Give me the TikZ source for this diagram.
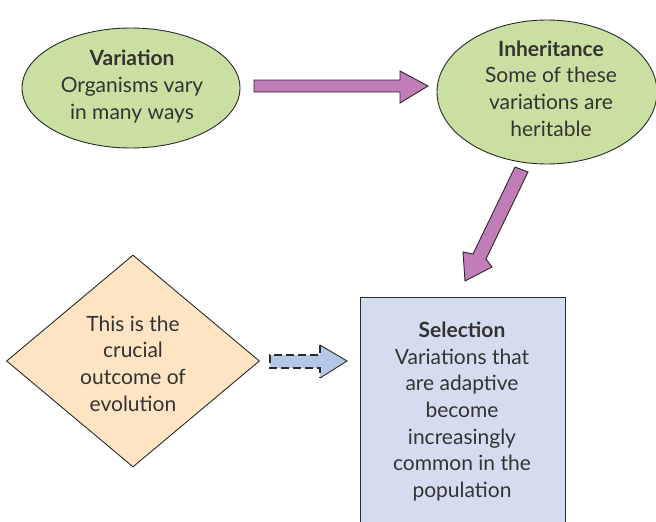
\documentclass[tikz,border=0pt]{standalone}
\usepackage{fontspec}
\setmainfont{Lato}
\usetikzlibrary{shapes.geometric}
\definecolor{ellgreen}{HTML}{C9E0A2}
\definecolor{arrpurple}{HTML}{C17DB7}
\definecolor{boxblue}{HTML}{D4DDF0}
\definecolor{diapeach}{HTML}{FEE4C2}
\definecolor{darrblue}{HTML}{B4C7E7}
\definecolor{txt}{HTML}{333333}
\definecolor{edge}{HTML}{2A2A2A}
\tikzset{
  shp/.style={draw=edge, line width=0.9pt, inner sep=0pt},
  lbl/.style={text=txt, align=center, font=\fontsize{21}{26.7}\selectfont},
  blockarrow/.style={draw=edge, line width=0.9pt, fill=arrpurple, line join=miter},
}
\begin{document}
\begin{tikzpicture}[x=1pt,y=-1pt]
\useasboundingbox (0,0) rectangle (656,522);
% shapes
\node[shp, ellipse, fill=ellgreen, minimum width=218pt, minimum height=120pt] (var) at (131,88) {};
\node[shp, ellipse, fill=ellgreen, minimum width=220pt, minimum height=144pt] (inh) at (547,92) {};
\node[shp, diamond, fill=diapeach, minimum width=253pt, minimum height=212pt, aspect=1.19] (dia) at (133,361) {};
\draw[shp, fill=boxblue] (360,297) rectangle (565,530);
\coordinate (selbox) at (462,410);
% texts
\node[lbl] (tvar) at (132,86.5) {\textbf{Variation}\\Organisms vary\\in many ways};
\node[lbl] (tinh) at (551,88.5) {\textbf{Inheritance}\\Some of these\\variations are\\heritable};
\node[lbl] (tdia) at (133,363.5) {This is the\\crucial\\outcome of\\evolution};
\node[lbl] (tsel) at (462,411.5) {\textbf{Selection}\\Variations that\\are adaptive\\become\\increasingly\\common in the\\population};
% block arrow 1
\draw[blockarrow] (254,80) -- (400,80) -- (400,71) -- (428,86) -- (400,103) -- (400,92) -- (254,92) -- cycle;
% block arrow 2
\draw[blockarrow] (515,167) -- (528,172) -- (486,259) -- (492,267) -- (465,281) -- (463,252) -- (473,254) -- cycle;
% dashed arrow
\fill[darrblue] (270,355) -- (320,355) -- (320,345) -- (347,361) -- (320,378) -- (320,368) -- (270,368) -- cycle;
\draw[edge, line width=1.3pt, dash pattern=on 8pt off 4pt] (320,345) |- (270,355) -- (270,368) -| (320,378);
\draw[edge, line width=0.9pt] (320,345) -- (347,361) -- (320,378);
\end{tikzpicture}
\end{document}
